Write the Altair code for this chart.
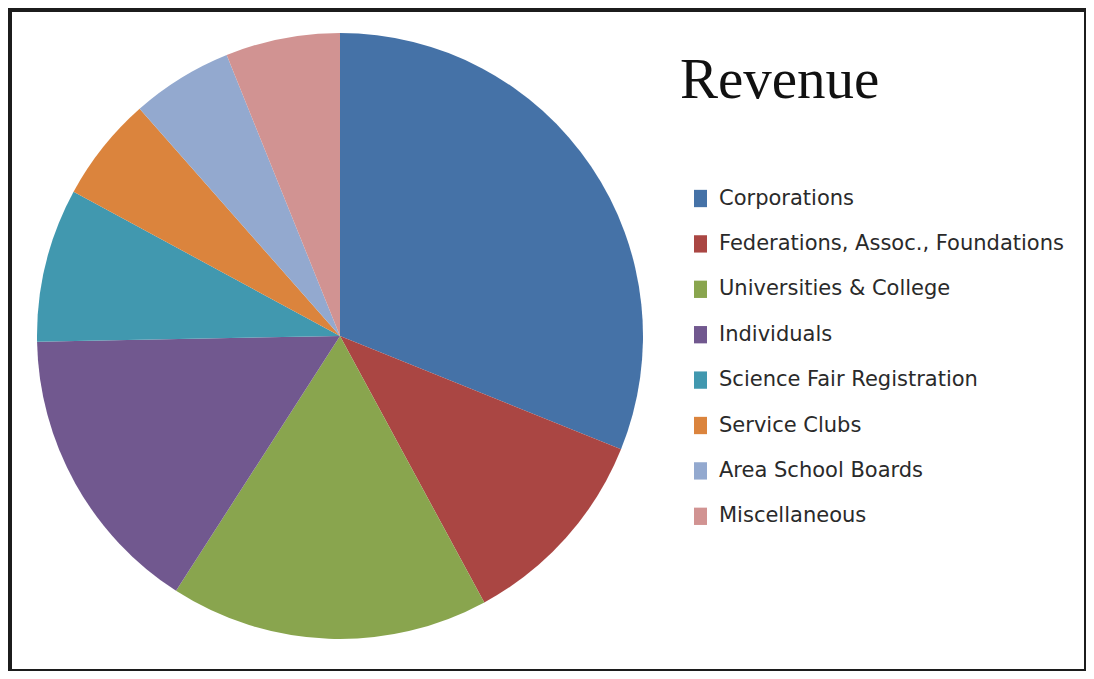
import altair as alt
import pandas as pd

chart_title = "Revenue"
categories = [
    "Corporations",
    "Federations, Assoc., Foundations",
    "Universities & College",
    "Individuals",
    "Science Fair Registration",
    "Service Clubs",
    "Area School Boards",
    "Miscellaneous",
]
shares = [31.1, 11.0, 17.0, 15.6, 8.2, 5.6, 5.4, 6.1]
colors = ["#4572A7", "#AA4643", "#89A54E", "#71588F", "#4198AF", "#DB843D", "#93A9CF", "#D19392"]

df = pd.DataFrame({"category": categories, "share": shares, "order": list(range(len(categories)))})

pie = alt.Chart(df).mark_arc(radius=303).encode(
    theta=alt.Theta("share:Q", stack=True),
    color=alt.Color(
        "category:N",
        sort=categories,
        scale=alt.Scale(domain=categories, range=colors),
        legend=alt.Legend(
            title=None,
            orient="none",
            legendX=680,
            legendY=178,
            symbolType="M-0.75,-1H0.75V1H-0.75Z",
            symbolSize=300,
            symbolStrokeWidth=0,
            symbolOpacity=1,
            labelFont="DejaVu Sans",
            labelFontSize=21,
            labelColor="#2a2a2a",
            rowPadding=23.4,
            labelOffset=8,
            padding=0,
            labelLimit=600,
        ),
    ),
    order=alt.Order("order:Q"),
    x=alt.value(330),
    y=alt.value(326),
)

title_df = pd.DataFrame({"title": [chart_title]})
title_layer = alt.Chart(title_df).mark_text(
    font="Liberation Serif", fontSize=57, align="left", baseline="alphabetic", color="#111111"
).encode(text="title:N", x=alt.value(670), y=alt.value(88))

chart = alt.layer(pie, title_layer).properties(
    width=1076,
    height=661,
    background="#a9c9eb",
    padding={"left": 2, "top": 2, "right": 0, "bottom": 0},
    autosize=alt.AutoSizeParams(type="none"),
).configure_view(fill="white", stroke="#1c1c1c", strokeWidth=4)

chart.save("out.html", embed_options={"renderer": "svg", "actions": False})
